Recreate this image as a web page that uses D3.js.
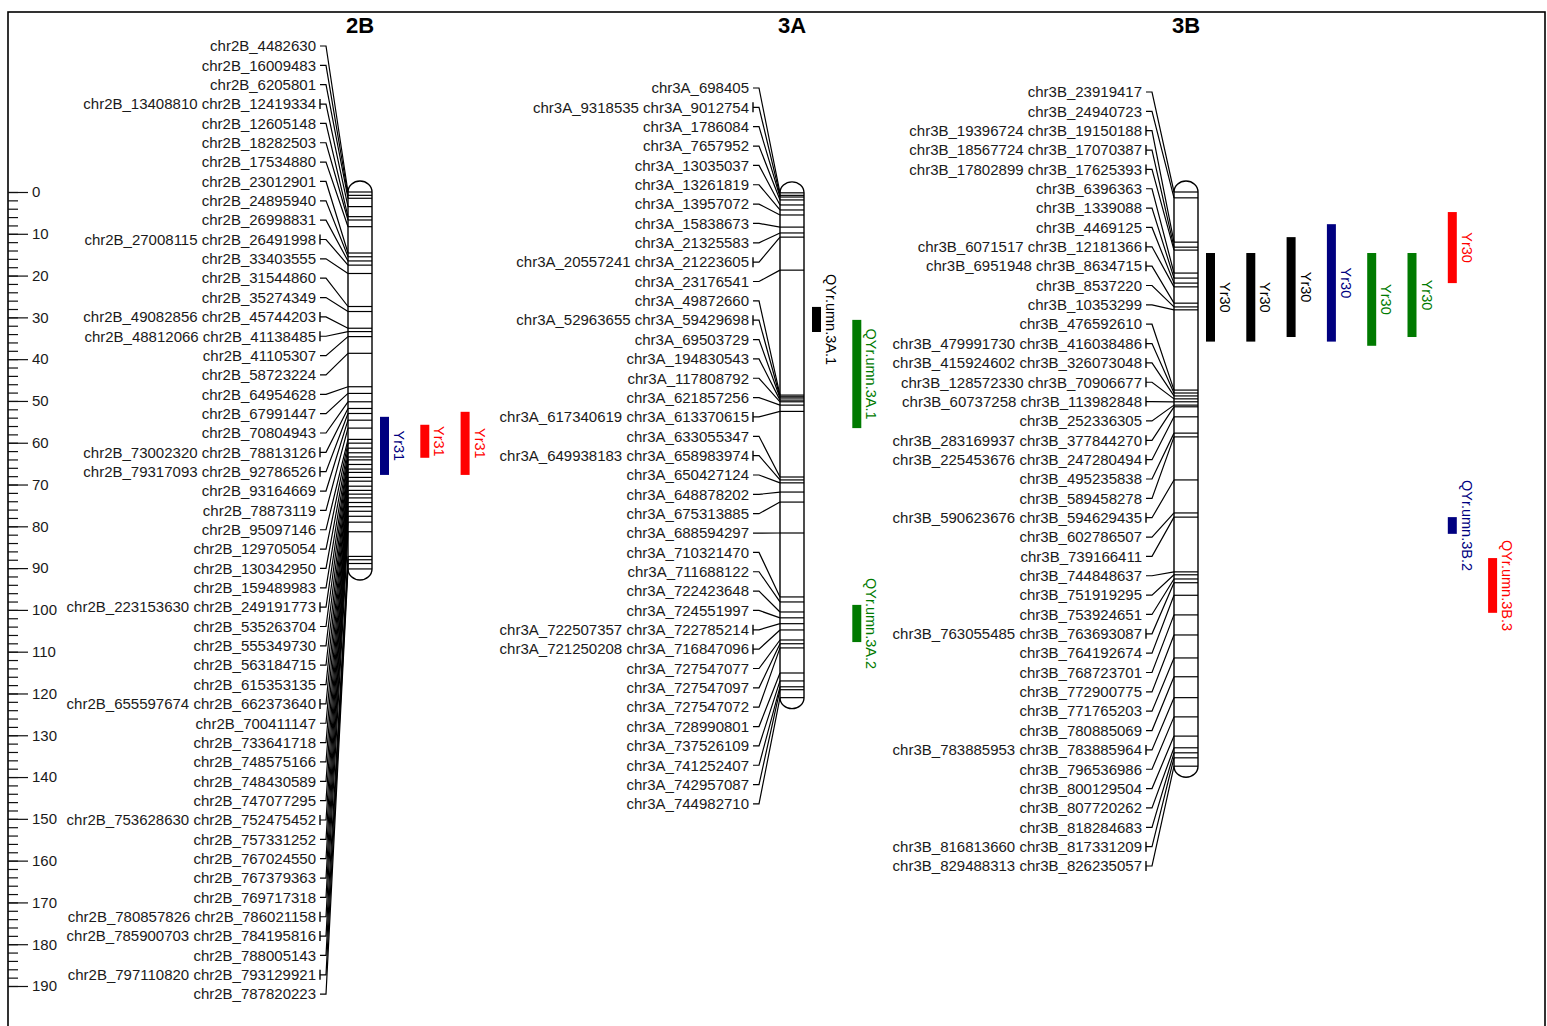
<!DOCTYPE html>
<html>
<head>
<meta charset="utf-8">
<script src="https://cdn.jsdelivr.net/npm/d3@7/dist/d3.min.js"></script>
<style>
  body { margin: 0; background: #fff; }
  text { font-family: "Liberation Sans", Arial, sans-serif; }
</style>
</head>
<body>
<svg width="1547" height="1026"></svg>
<script>
////// Data: marker names (top to bottom) and map positions in cM
var chromosomes = ["2B", "3A", "3B"];

var markers2B = ["chr2B_4482630","chr2B_16009483","chr2B_6205801","chr2B_13408810 chr2B_12419334","chr2B_12605148",
  "chr2B_18282503","chr2B_17534880","chr2B_23012901","chr2B_24895940","chr2B_26998831",
  "chr2B_27008115 chr2B_26491998","chr2B_33403555","chr2B_31544860","chr2B_35274349","chr2B_49082856 chr2B_45744203",
  "chr2B_48812066 chr2B_41138485","chr2B_41105307","chr2B_58723224","chr2B_64954628","chr2B_67991447",
  "chr2B_70804943","chr2B_73002320 chr2B_78813126","chr2B_79317093 chr2B_92786526","chr2B_93164669","chr2B_78873119",
  "chr2B_95097146","chr2B_129705054","chr2B_130342950","chr2B_159489983","chr2B_223153630 chr2B_249191773",
  "chr2B_535263704","chr2B_555349730","chr2B_563184715","chr2B_615353135","chr2B_655597674 chr2B_662373640",
  "chr2B_700411147","chr2B_733641718","chr2B_748575166","chr2B_748430589","chr2B_747077295",
  "chr2B_753628630 chr2B_752475452","chr2B_757331252","chr2B_767024550","chr2B_767379363","chr2B_769717318",
  "chr2B_780857826 chr2B_786021158","chr2B_785900703 chr2B_784195816","chr2B_788005143","chr2B_797110820 chr2B_793129921","chr2B_787820223"];
var pos2B = [0, 0.8, 1.5, 3.5, 5.9, 6.7, 8.3, 14.6, 15.5, 16.5,
  17.5, 19.5, 27.4, 28.6, 32.6, 33.4, 34.6, 38.6, 46.6, 48.2,
  50.2, 51.8, 53.0, 54.6, 56.5, 59.2, 60.1, 61.3, 62.4, 63.4,
  64.1, 65.2, 66.3, 67.1, 68.3, 69.2, 70.4, 71.4, 72.3, 73.2,
  74.3, 75.3, 76.4, 77.6, 79.0, 81.3, 87.2, 88.0, 88.9, 90.2];

var markers3A = ["chr3A_698405","chr3A_9318535 chr3A_9012754","chr3A_1786084","chr3A_7657952","chr3A_13035037",
  "chr3A_13261819","chr3A_13957072","chr3A_15838673","chr3A_21325583","chr3A_20557241 chr3A_21223605",
  "chr3A_23176541","chr3A_49872660","chr3A_52963655 chr3A_59429698","chr3A_69503729","chr3A_194830543",
  "chr3A_117808792","chr3A_621857256","chr3A_617340619 chr3A_613370615","chr3A_633055347","chr3A_649938183 chr3A_658983974",
  "chr3A_650427124","chr3A_648878202","chr3A_675313885","chr3A_688594297","chr3A_710321470",
  "chr3A_711688122","chr3A_722423648","chr3A_724551997","chr3A_722507357 chr3A_722785214","chr3A_721250208 chr3A_716847096",
  "chr3A_727547077","chr3A_727547097","chr3A_727547072","chr3A_728990801","chr3A_737526109",
  "chr3A_741252407","chr3A_742957087","chr3A_744982710"];
var pos3A = [0.2, 0.8, 1.2, 1.9, 3.1, 4.3, 5.5, 8.4, 9.8, 10.8,
  18.7, 48.6, 49.0, 49.3, 49.8, 50.2, 51.0, 52.5, 68.2, 68.9,
  69.6, 71.8, 74.2, 81.6, 96.9, 98.1, 100.5, 101.9, 103.3, 104.8,
  107.2, 108.1, 109.1, 115.1, 117.0, 118.4, 119.1, 121.0];

var markers3B = ["chr3B_23919417","chr3B_24940723","chr3B_19396724 chr3B_19150188","chr3B_18567724 chr3B_17070387","chr3B_17802899 chr3B_17625393",
  "chr3B_6396363","chr3B_1339088","chr3B_4469125","chr3B_6071517 chr3B_12181366","chr3B_6951948 chr3B_8634715",
  "chr3B_8537220","chr3B_10353299","chr3B_476592610","chr3B_479991730 chr3B_416038486","chr3B_415924602 chr3B_326073048",
  "chr3B_128572330 chr3B_70906677","chr3B_60737258 chr3B_113982848","chr3B_252336305","chr3B_283169937 chr3B_377844270","chr3B_225453676 chr3B_247280494",
  "chr3B_495235838","chr3B_589458278","chr3B_590623676 chr3B_594629435","chr3B_602786507","chr3B_739166411",
  "chr3B_744848637","chr3B_751919295","chr3B_753924651","chr3B_763055485 chr3B_763693087","chr3B_764192674",
  "chr3B_768723701","chr3B_772900775","chr3B_771765203","chr3B_780885069","chr3B_783885953 chr3B_783885964",
  "chr3B_796536986","chr3B_800129504","chr3B_807720262","chr3B_818284683","chr3B_816813660 chr3B_817331209",
  "chr3B_829488313 chr3B_826235057"];
var pos3B = [0, 1.4, 12.0, 13.2, 13.9, 19.4, 20.6, 21.8, 22.7, 26.6,
  27.5, 28.2, 47.4, 48.1, 48.8, 49.5, 50.2, 51.0, 51.4, 53.8,
  57.7, 58.6, 68.9, 76.8, 77.8, 90.9, 91.6, 92.6, 93.5, 96.5,
  101.2, 106.0, 111.5, 116.0, 121.0, 125.6, 130.2, 133.0, 134.2, 135.4,
  137.4];

// QTL intervals (cM)
var qtlChrom = ["2B","2B","2B","3A","3A","3A","3B","3B","3B","3B","3B","3B","3B","3B","3B"];
var qtlName  = ["Yr31","Yr31","Yr31","QYr.umn.3A.1","QYr.umn.3A.1","QYr.umn.3A.2",
  "Yr30","Yr30","Yr30","Yr30","Yr30","Yr30","Yr30","QYr.umn.3B.2","QYr.umn.3B.3"];
var qtlStart = [53.8, 55.7, 52.6, 27.5, 30.6, 98.8, 14.6, 14.6, 10.8, 7.7, 14.6, 14.6, 4.8, 77.8, 87.6];
var qtlEnd   = [67.7, 63.6, 67.7, 33.5, 56.5, 107.7, 35.8, 35.8, 34.7, 35.8, 36.8, 34.7, 21.8, 81.8, 100.7];
var qtlEnv   = ["E2","E4","E4","E1","E3","E3","E1","E1","E1","E2","E3","E3","E4","E2","E4"];
var qtlTrack = [0, 1, 2, 0, 1, 1, 0, 1, 2, 3, 4, 5, 6, 6, 7];

var axisTicks = d3.range(0, 191, 10);

////// Layout
var svg = d3.select("svg");
var y = d3.scaleLinear().domain([0, 190]).range([192, 986]);
var envColor = d3.scaleOrdinal().domain(["E1","E2","E3","E4"]).range(["#000000","#000080","#007a00","#ff0000"]);

var chromX = { "2B": 360, "3A": 792, "3B": 1186 };
var rowTop = { "2B": 46, "3A": 88, "3B": 92 };
var textRight = { "2B": 316, "3A": 749, "3B": 1142 };
var rowStep = 19.35, halfW = 12, capH = 11, trackStep = 40.3, barW = 9;

var markerData = { "2B": [markers2B, pos2B], "3A": [markers3A, pos3A], "3B": [markers3B, pos3B] };

// frame
svg.append("rect")
  .attr("x", 8).attr("y", 12).attr("width", 1537).attr("height", 1030)
  .attr("fill", "none").attr("stroke", "#000").attr("stroke-width", 1.6);

// scale on the left: minor ticks every 2 cM, labelled every 10
svg.append("g")
  .attr("transform", "translate(8,0)")
  .call(d3.axisRight(y).tickValues(d3.range(0, 191, 2)).tickSize(10).tickSizeOuter(0).tickFormat(""))
  .call(function (g) { g.select(".domain").remove(); g.selectAll("line").attr("stroke", "#111").attr("stroke-width", 1.2); });

svg.append("g")
  .attr("transform", "translate(8,0)")
  .call(d3.axisRight(y).tickValues(axisTicks).tickSize(20).tickSizeOuter(0).tickPadding(4))
  .call(function (g) {
    g.select(".domain").remove();
    g.selectAll("line").attr("stroke", "#111").attr("stroke-width", 1.2);
    g.selectAll("text").style("font-size", "15px").attr("fill", "#1a1a1a").style("font-family", "'Liberation Sans', Arial, sans-serif");
  });

chromosomes.forEach(function (c) {
  var names = markerData[c][0], pos = markerData[c][1];
  var cx = chromX[c], tr = textRight[c];
  var g = svg.append("g").attr("class", "chr chr" + c);

  // title
  g.append("text")
    .attr("x", cx).attr("y", 33)
    .attr("text-anchor", "middle")
    .style("font-size", "22px").style("font-weight", "bold")
    .text(c);

  // chromosome body
  var top = y(d3.min(pos)), bot = y(d3.max(pos));
  g.append("rect")
    .attr("x", cx - halfW).attr("y", top - capH)
    .attr("width", halfW * 2).attr("height", bot - top + capH * 2)
    .attr("rx", halfW).attr("ry", capH)
    .attr("fill", "#fff").attr("stroke", "#000").attr("stroke-width", 1.4);

  // marker bands
  g.selectAll("line.band").data(pos).enter().append("line")
    .attr("class", "band")
    .attr("x1", cx - halfW).attr("x2", cx + halfW)
    .attr("y1", function (d) { return y(d); }).attr("y2", function (d) { return y(d); })
    .attr("stroke", "#000").attr("stroke-width", 1.2);

  // labels and connectors
  names.forEach(function (n, i) {
    var ly = rowTop[c] + i * rowStep;
    g.append("text")
      .attr("x", tr).attr("y", ly).attr("dy", "0.35em")
      .attr("text-anchor", "end")
      .style("font-size", "15px").attr("fill", "#1a1a1a")
      .text(n);
    g.append("path")
      .attr("d", "M" + (tr + 4) + "," + ly + "H" + (tr + 10) + "L" + (cx - halfW) + "," + y(pos[i]))
      .attr("fill", "none").attr("stroke", "#000").attr("stroke-width", 1.2);
    if (n.indexOf(" ") > 0) {
      g.append("line")
        .attr("x1", tr + 4).attr("x2", tr + 4)
        .attr("y1", ly - 5).attr("y2", ly + 5)
        .attr("stroke", "#000").attr("stroke-width", 1.4);
    }
  });
});

// QTL bars with rotated labels
qtlName.forEach(function (n, i) {
  var c = qtlChrom[i];
  var bx = chromX[c] + halfW + 8 + qtlTrack[i] * trackStep;
  var y0 = y(qtlStart[i]), y1 = y(qtlEnd[i]);
  var col = envColor(qtlEnv[i]);
  svg.append("rect")
    .attr("x", bx).attr("y", y0)
    .attr("width", barW).attr("height", y1 - y0)
    .attr("fill", col);
  svg.append("text")
    .attr("transform", "translate(" + (bx + barW + 5) + "," + ((y0 + y1) / 2) + ") rotate(90)")
    .attr("text-anchor", "middle")
    .style("font-size", "14.5px")
    .attr("fill", col)
    .text(n);
});
</script>
</body>
</html>
